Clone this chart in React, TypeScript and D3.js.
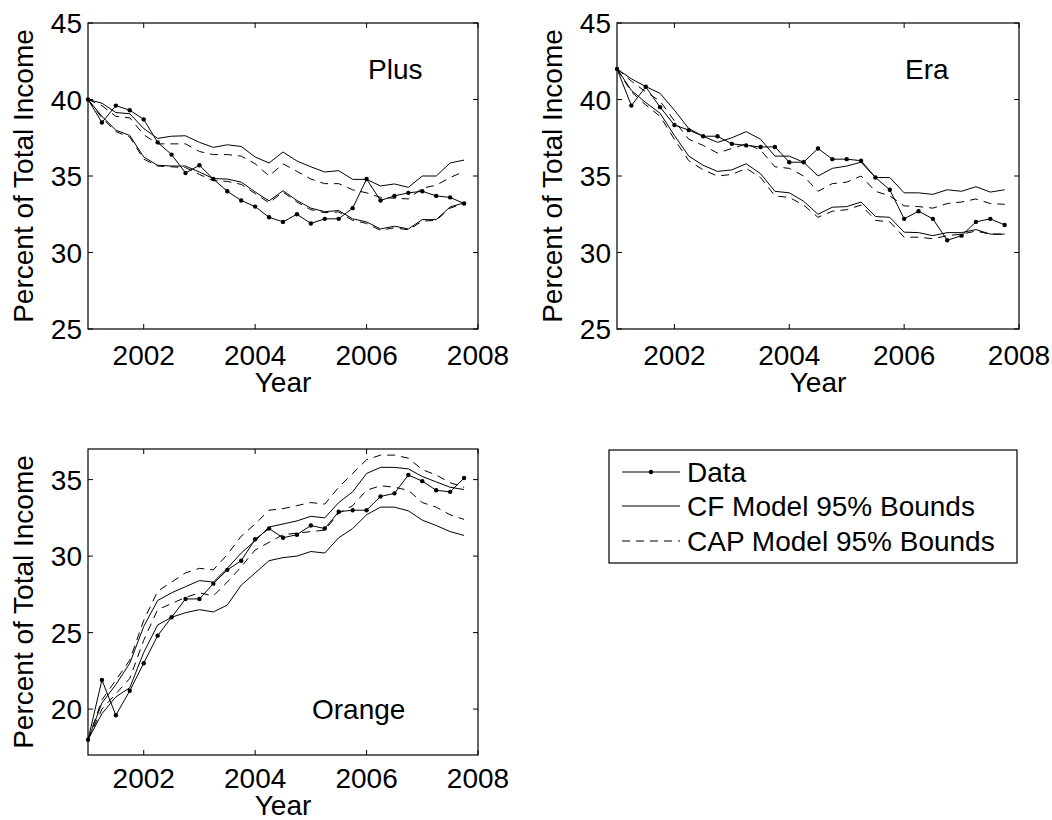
import React from 'react';
import * as d3 from 'd3';

// quarterly observation dates (2001Q1 .. 2007Q4)
const quarters = [
  2001, 2001.25, 2001.5, 2001.75, 2002, 2002.25, 2002.5, 2002.75,
  2003, 2003.25, 2003.5, 2003.75, 2004, 2004.25, 2004.5, 2004.75,
  2005, 2005.25, 2005.5, 2005.75, 2006, 2006.25, 2006.5, 2006.75,
  2007, 2007.25, 2007.5, 2007.75,
];

const xTicks = [2002, 2004, 2006, 2008];

// Plus
const plusData = [40.0, 38.5, 39.6, 39.3, 38.7, 37.2, 36.4, 35.2, 35.7, 34.8, 34.0, 33.4, 33.0, 32.3, 32.0, 32.5, 31.9, 32.2, 32.2, 32.9, 34.8, 33.4, 33.7, 33.9, 34.0, 33.7, 33.6, 33.2];
const plusCfUp = [40.0, 39.76, 39.15, 39.07, 38.1, 37.46, 37.6, 37.63, 37.2, 36.87, 37.04, 36.93, 36.24, 35.85, 36.57, 35.98, 35.6, 35.26, 35.35, 34.78, 34.78, 34.35, 34.48, 34.26, 35.0, 35.0, 35.85, 36.04];
const plusCfLo = [40.0, 38.9, 38.0, 37.65, 36.24, 35.7, 35.65, 35.65, 35.26, 34.83, 34.8, 34.6, 33.96, 33.37, 34.04, 33.4, 32.9, 32.67, 32.74, 32.2, 32.0, 31.54, 31.72, 31.54, 32.15, 32.15, 32.98, 33.24];
const plusCapUp = [40.0, 39.6, 38.9, 38.8, 37.7, 37.1, 37.1, 37.1, 36.6, 36.4, 36.4, 36.3, 35.8, 35.0, 35.8, 35.3, 34.8, 34.5, 34.5, 34.1, 33.9, 33.6, 33.55, 33.5, 34.2, 34.4, 34.9, 35.3];
const plusCapLo = [40.0, 38.8, 37.9, 37.55, 36.1, 35.65, 35.6, 35.55, 35.1, 34.7, 34.65, 34.45, 33.85, 33.25, 33.95, 33.3, 32.8, 32.6, 32.65, 32.1, 31.9, 31.45, 31.62, 31.48, 32.05, 32.1, 32.9, 33.2];

// Era
const eraData = [42.0, 39.6, 40.83, 39.5, 38.33, 38.0, 37.6, 37.6, 37.1, 37.0, 36.9, 36.9, 35.9, 35.9, 36.8, 36.1, 36.1, 36.0, 34.9, 34.1, 32.2, 32.7, 32.2, 30.8, 31.1, 32.0, 32.2, 31.8];
const eraCfUp = [42.0, 41.35, 40.85, 40.4, 39.3, 38.1, 37.6, 37.2, 37.5, 37.9, 37.4, 36.3, 36.3, 35.9, 35.0, 35.5, 35.65, 35.9, 34.9, 34.9, 33.9, 33.9, 33.8, 34.1, 34.0, 34.3, 33.95, 34.1];
const eraCfLo = [42.0, 40.6, 39.8, 39.1, 37.65, 36.3, 35.7, 35.3, 35.4, 35.8, 35.15, 34.0, 33.9, 33.35, 32.5, 32.96, 33.0, 33.3, 32.35, 32.3, 31.33, 31.3, 31.1, 31.3, 31.3, 31.5, 31.2, 31.2];
const eraCapUp = [42.0, 41.2, 40.5, 39.9, 38.6, 37.4, 37.0, 36.5, 36.8, 37.1, 36.7, 35.6, 35.5, 35.0, 34.0, 34.5, 34.6, 35.0, 34.0, 33.7, 33.05, 33.0, 32.9, 33.2, 33.3, 33.5, 33.2, 33.15];
const eraCapLo = [42.0, 40.5, 39.65, 38.9, 37.4, 36.0, 35.4, 35.0, 35.1, 35.5, 34.9, 33.7, 33.6, 33.1, 32.3, 32.7, 32.8, 33.1, 32.1, 32.0, 31.0, 31.0, 30.9, 31.1, 31.2, 31.4, 31.2, 31.2];

// Orange
const orangeData = [18.0, 21.9, 19.6, 21.2, 23.0, 24.8, 26.0, 27.2, 27.2, 28.2, 29.1, 29.7, 31.1, 31.8, 31.2, 31.4, 32.0, 31.8, 32.9, 33.0, 33.0, 33.9, 34.1, 35.3, 34.9, 34.3, 34.2, 35.1];
const orangeCfUp = [18.0, 20.4, 21.6, 23.0, 25.4, 27.1, 27.6, 28.0, 28.4, 28.3, 29.2, 30.2, 31.0, 31.9, 32.1, 32.3, 32.6, 32.5, 33.5, 34.2, 35.4, 35.8, 35.8, 35.7, 35.2, 34.85, 34.5, 34.35];
const orangeCfLo = [18.0, 19.7, 20.8, 21.4, 23.7, 25.5, 26.0, 26.3, 26.5, 26.35, 26.8, 28.1, 28.9, 29.7, 29.9, 30.0, 30.3, 30.2, 31.2, 31.8, 32.7, 33.2, 33.2, 32.96, 32.35, 32.0, 31.6, 31.35];
const orangeCapUp = [18.0, 20.6, 21.9, 23.2, 25.8, 27.7, 28.3, 28.9, 29.2, 29.1, 30.1, 31.3, 32.1, 33.0, 33.1, 33.3, 33.5, 33.4, 34.5, 35.4, 36.3, 36.6, 36.6, 36.4, 35.65, 35.3, 34.8, 34.5];
const orangeCapLo = [18.0, 20.0, 21.0, 22.0, 24.5, 26.5, 26.9, 27.3, 27.6, 27.4, 28.3, 29.3, 30.4, 30.9, 31.4, 31.5, 31.6, 31.7, 32.8, 33.3, 34.3, 34.6, 34.5, 34.3, 33.5, 33.2, 32.7, 32.4];

const legendLabels = ['Data', 'CF Model 95% Bounds', 'CAP Model 95% Bounds'];

const FONT = '"Liberation Sans", Arial, Helvetica, sans-serif';
const FS = 28;
const DASH = '8,6';

interface PanelProps {
  left: number; right: number; top: number; bottom: number;
  yDomain: [number, number];
  yTicks: number[];
  title: string;
  titleX: number; titleY: number;
  tickOffset: number;
  yearOffset: number;
  data: number[]; cfUp: number[]; cfLo: number[]; capUp: number[]; capLo: number[];
}

const Panel: React.FC<PanelProps> = (p) => {
  const x = d3.scaleLinear().domain([2001, 2008]).range([p.left, p.right]);
  const y = d3.scaleLinear().domain(p.yDomain).range([p.bottom, p.top]);
  const line = d3.line<number>().x((_, i) => x(quarters[i])).y(d => y(d));
  const tl = 5;
  return (
    <g>
      <rect x={p.left} y={p.top} width={p.right - p.left} height={p.bottom - p.top} fill="white" />
      <path d={line(p.capUp) || ''} fill="none" stroke="black" strokeWidth={1} strokeDasharray={DASH} />
      <path d={line(p.capLo) || ''} fill="none" stroke="black" strokeWidth={1} strokeDasharray={DASH} />
      <path d={line(p.cfUp) || ''} fill="none" stroke="black" strokeWidth={1} />
      <path d={line(p.cfLo) || ''} fill="none" stroke="black" strokeWidth={1} />
      <path d={line(p.data) || ''} fill="none" stroke="black" strokeWidth={1} />
      {p.data.map((d, i) => (
        <circle key={i} cx={x(quarters[i])} cy={y(d)} r={2.2} fill="black" />
      ))}
      <rect x={p.left} y={p.top} width={p.right - p.left} height={p.bottom - p.top} fill="none" stroke="black" strokeWidth={1.2} />
      {xTicks.map(t => (
        <g key={'x' + t}>
          <line x1={x(t)} x2={x(t)} y1={p.bottom} y2={p.bottom - tl} stroke="black" />
          <line x1={x(t)} x2={x(t)} y1={p.top} y2={p.top + tl} stroke="black" />
          <text x={x(t)} y={p.bottom + p.tickOffset} textAnchor="middle" fontSize={FS} fontFamily={FONT}>{t}</text>
        </g>
      ))}
      {p.yTicks.map(t => (
        <g key={'y' + t}>
          <line x1={p.left} x2={p.left + tl} y1={y(t)} y2={y(t)} stroke="black" />
          <line x1={p.right} x2={p.right - tl} y1={y(t)} y2={y(t)} stroke="black" />
          <text x={p.left - 6} y={y(t)} dy="0.36em" textAnchor="end" fontSize={FS} fontFamily={FONT}>{t}</text>
        </g>
      ))}
      <text x={(p.left + p.right) / 2} y={p.bottom + p.yearOffset} textAnchor="middle" fontSize={FS} fontFamily={FONT}>Year</text>
      <text transform={`translate(${p.left - 55},${(p.top + p.bottom) / 2}) rotate(-90)`} textAnchor="middle" fontSize={FS} fontFamily={FONT}>Percent of Total Income</text>
      <text x={p.titleX} y={p.titleY} fontSize={FS} fontFamily={FONT}>{p.title}</text>
    </g>
  );
};

export default function App() {
  const lg = { x: 609, y: 450, w: 408, h: 113 };
  const rowY = [472, 506, 541];
  return (
    <svg width={1052} height={820} style={{ position: 'absolute', left: 0, top: 0, background: 'white' }}>
      <rect width={1052} height={820} fill="white" />
      <Panel left={88} right={478} top={23} bottom={329} yDomain={[25, 45]} yTicks={[25, 30, 35, 40, 45]}
        title="Plus" titleX={368} titleY={79} tickOffset={36} yearOffset={63}
        data={plusData} cfUp={plusCfUp} cfLo={plusCfLo} capUp={plusCapUp} capLo={plusCapLo} />
      <Panel left={617} right={1019} top={23} bottom={329} yDomain={[25, 45]} yTicks={[25, 30, 35, 40, 45]}
        title="Era" titleX={905} titleY={79} tickOffset={36} yearOffset={63}
        data={eraData} cfUp={eraCfUp} cfLo={eraCfLo} capUp={eraCapUp} capLo={eraCapLo} />
      <Panel left={88} right={478} top={449} bottom={755} yDomain={[17, 37]} yTicks={[20, 25, 30, 35]}
        title="Orange" titleX={312} titleY={719} tickOffset={33} yearOffset={60}
        data={orangeData} cfUp={orangeCfUp} cfLo={orangeCfLo} capUp={orangeCapUp} capLo={orangeCapLo} />
      <g>
        <rect x={lg.x} y={lg.y} width={lg.w} height={lg.h} fill="white" stroke="black" strokeWidth={1.2} />
        {legendLabels.map((label, i) => (
          <g key={label}>
            <line x1={622} x2={680} y1={rowY[i]} y2={rowY[i]} stroke="black" strokeWidth={1}
              strokeDasharray={i === 2 ? DASH : undefined} />
            {i === 0 && <circle cx={651} cy={rowY[i]} r={2.2} fill="black" />}
            <text x={687} y={rowY[i]} dy="0.36em" fontSize={FS} fontFamily={FONT}>{label}</text>
          </g>
        ))}
      </g>
    </svg>
  );
}
